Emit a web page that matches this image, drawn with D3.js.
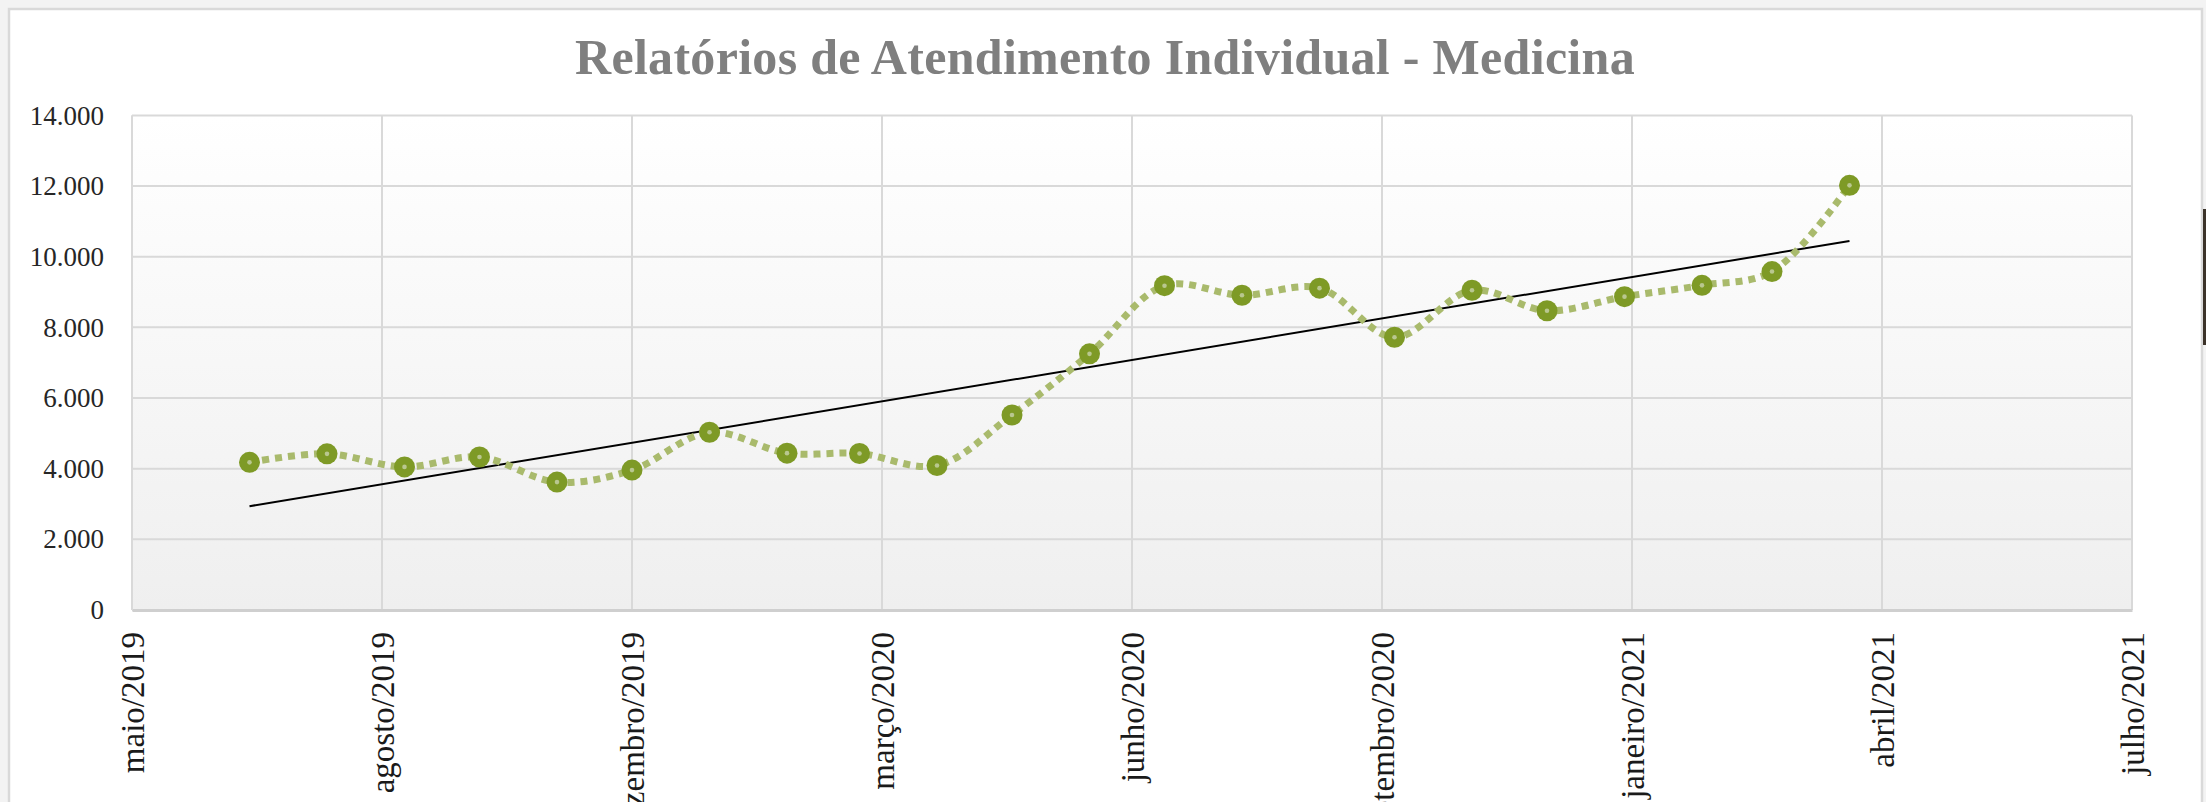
<!DOCTYPE html>
<html>
<head>
<meta charset="utf-8">
<script src="https://cdn.jsdelivr.net/npm/d3@7"></script>
<style>
  html, body { margin: 0; padding: 0; background: #f3f3f3; overflow: hidden; }
  svg { display: block; }
</style>
</head>
<body>
<svg id="drawing_region"></svg>
<script>
// monthly reports (first day of each month)
const months = [
    "2019-07-01", "2019-08-01", "2019-09-01", "2019-10-01", "2019-11-01", "2019-12-01",
    "2020-01-01", "2020-02-01", "2020-03-01", "2020-04-01", "2020-05-01", "2020-06-01",
    "2020-07-01", "2020-08-01", "2020-09-01", "2020-10-01", "2020-11-01", "2020-12-01",
    "2021-01-01", "2021-02-01", "2021-03-01", "2021-04-01"
];
const atendimentos = [
    4180, 4420, 4050, 4330, 3620, 3960,
    5030, 4440, 4430, 4090, 5520, 7250,
    9180, 8910, 9110, 7720, 9050, 8470,
    8870, 9190, 9580, 12020
];
// excel axis: every 100 days from 15/05/2019
const xTickDates = [
    "2019-05-15", "2019-08-23", "2019-12-01", "2020-03-10", "2020-06-18",
    "2020-09-26", "2021-01-04", "2021-04-14", "2021-07-23"
];
const yTicks = [0, 2000, 4000, 6000, 8000, 10000, 12000, 14000];
const monthNames = ["janeiro", "fevereiro", "março", "abril", "maio", "junho",
    "julho", "agosto", "setembro", "outubro", "novembro", "dezembro"];
const title = "Relatórios de Atendimento Individual - Medicina";

const W = 2206, H = 802;
const margin = {top: 115.4, right: W - 2132, bottom: H - 610, left: 132};
const inner_width = W - margin.left - margin.right;
const inner_height = H - margin.top - margin.bottom;

const parse = d3.utcParse("%Y-%m-%d");
const data = months.map((m, i) => ({date: parse(m), value: atendimentos[i]}));
const tickDates = xTickDates.map(parse);

const ptBR = d3.formatLocale({decimal: ",", thousands: ".", grouping: [3], currency: ["R$", ""]});
const yfmt = ptBR.format(",d");

const svg = d3.select("#drawing_region")
    .attr("width", W)
    .attr("height", H);

// spreadsheet frame
svg.append("rect")
    .attr("x", 9).attr("y", 9)
    .attr("width", 2193).attr("height", H + 20)
    .attr("fill", "#ffffff")
    .attr("stroke", "#d9d9d9")
    .attr("stroke-width", 2.5);

svg.append("rect")
    .attr("x", 2203).attr("y", 209)
    .attr("width", 3).attr("height", 136)
    .attr("fill", "#3b3229");

const defs = svg.append("defs");
const grad = defs.append("linearGradient")
    .attr("id", "plotbg")
    .attr("x1", 0).attr("y1", 0).attr("x2", 0).attr("y2", 1);
grad.append("stop").attr("offset", "0%").attr("stop-color", "#ffffff");
grad.append("stop").attr("offset", "100%").attr("stop-color", "#efefef");

svg.append("text")
    .attr("x", 1105)
    .attr("y", 74)
    .attr("text-anchor", "middle")
    .style("font-family", "'Liberation Serif', 'DejaVu Serif', serif")
    .style("font-weight", "bold")
    .style("font-size", "50px")
    .style("letter-spacing", "0.3px")
    .attr("fill", "#7f7f7f")
    .text(title);

const chart = svg.append("g")
    .attr("transform", `translate(${margin.left}, ${margin.top})`);

chart.append("rect")
    .attr("width", inner_width)
    .attr("height", inner_height)
    .attr("fill", "url(#plotbg)");

const xscale = d3.scaleUtc()
    .domain([tickDates[0], tickDates[tickDates.length - 1]])
    .range([0, inner_width]);

const yscale = d3.scaleLinear()
    .domain([0, 14000])
    .range([inner_height, 0]);

// grid
chart.append("g")
    .selectAll("line")
    .data(yTicks)
    .join("line")
    .attr("x1", 0).attr("x2", inner_width)
    .attr("y1", d => yscale(d)).attr("y2", d => yscale(d))
    .attr("stroke", "#d9d9d9")
    .attr("stroke-width", 2);

chart.append("g")
    .selectAll("line")
    .data(tickDates)
    .join("line")
    .attr("x1", d => xscale(d)).attr("x2", d => xscale(d))
    .attr("y1", 0).attr("y2", inner_height)
    .attr("stroke", "#d9d9d9")
    .attr("stroke-width", 2);

// axes
const yaxis = d3.axisLeft(yscale)
    .tickValues(yTicks)
    .tickFormat(yfmt)
    .tickSize(0)
    .tickPadding(28);

const yaxis_group = chart.append("g").call(yaxis);
yaxis_group.select(".domain").remove();
yaxis_group.selectAll("text")
    .style("font-family", "'Liberation Serif', 'DejaVu Serif', serif")
    .style("font-size", "27px")
    .attr("fill", "#262626");

const xaxis = d3.axisBottom(xscale)
    .tickValues(tickDates)
    .tickFormat(d => `${monthNames[d.getUTCMonth()]}/${d.getUTCFullYear()}`)
    .tickSize(0);

const xaxis_group = chart.append("g")
    .attr("transform", `translate(0, ${inner_height})`)
    .call(xaxis);
xaxis_group.select(".domain")
    .attr("stroke", "#cfcfcf")
    .attr("stroke-width", 3);
xaxis_group.selectAll("text")
    .style("font-family", "'Liberation Serif', 'DejaVu Serif', serif")
    .style("font-size", "33px")
    .attr("fill", "#1a1a1a")
    .attr("text-anchor", "end")
    .attr("transform", "rotate(-90)")
    .attr("x", -22)
    .attr("y", 0)
    .attr("dy", "0.35em");

chart.append("line")
    .attr("x1", 0).attr("x2", 0)
    .attr("y1", 0).attr("y2", inner_height)
    .attr("stroke", "#d9d9d9")
    .attr("stroke-width", 2);

// linear trend (least squares on day numbers)
const day = d => d.date.getTime() / 864e5;
const mx = d3.mean(data, day);
const my = d3.mean(data, d => d.value);
const slope = d3.sum(data, d => (day(d) - mx) * (d.value - my)) / d3.sum(data, d => (day(d) - mx) ** 2);
const trend = v => my + slope * (v - mx);
const first = data[0], last = data[data.length - 1];

chart.append("line")
    .attr("x1", xscale(first.date)).attr("y1", yscale(trend(day(first))))
    .attr("x2", xscale(last.date)).attr("y2", yscale(trend(day(last))))
    .attr("stroke", "#000000")
    .attr("stroke-width", 2);

// series
const line = d3.line()
    .x(d => xscale(d.date))
    .y(d => yscale(d.value))
    .curve(d3.curveCatmullRom.alpha(0.5));

chart.append("path")
    .datum(data)
    .attr("d", line)
    .attr("fill", "none")
    .attr("stroke", "#a9ba6c")
    .attr("stroke-width", 7)
    .attr("stroke-dasharray", "7 6");

chart.append("g")
    .selectAll("circle")
    .data(data)
    .join("circle")
    .attr("cx", d => xscale(d.date))
    .attr("cy", d => yscale(d.value))
    .attr("r", 10.5)
    .attr("fill", "#7e9a26");

chart.append("g")
    .selectAll("circle")
    .data(data)
    .join("circle")
    .attr("cx", d => xscale(d.date))
    .attr("cy", d => yscale(d.value))
    .attr("r", 2.3)
    .attr("fill", "#b9c78f");
</script>
</body>
</html>
